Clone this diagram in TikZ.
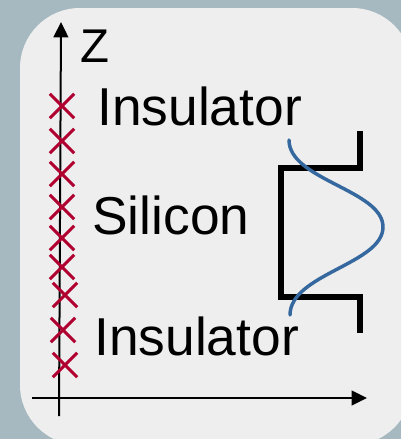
\documentclass[tikz,border=0pt]{standalone}
\usepackage{fontspec}
\setmainfont{Liberation Sans}
\usetikzlibrary{arrows.meta,shapes.misc}
\definecolor{GrisFondo}{RGB}{166,185,193}
\definecolor{GrisPanel}{RGB}{238,238,238}
\definecolor{RojoMarca}{RGB}{176,0,48}
\definecolor{AzulOnda}{RGB}{52,104,158}
\tikzset{
  ejearr/.style={-{Triangle[length=11.5pt, width=11pt]}, line width=1.5pt, black},
  marca/.style={cross out, draw=RojoMarca, line width=2.3pt, minimum size=16pt, inner sep=0pt},
  capalabel/.style={anchor=base west, inner sep=0pt, font=\fontsize{40}{48}\selectfont},
  ejelabel/.style={anchor=base west, inner sep=0pt, font=\fontsize{35.5}{42}\selectfont},
  pozo/.style={line width=3.8pt, black},
  onda/.style={line width=2.6pt, AzulOnda, line cap=round},
}
\begin{document}
\begin{tikzpicture}[x=0.75pt, y=-0.75pt]
  \useasboundingbox (0,0) rectangle (401,439);
  \fill[GrisFondo] (0,0) rectangle (401,439);
  \clip (0,0) rectangle (401,439);
  \fill[GrisPanel, rounded corners=45pt] (20,8) rectangle (412,445);

  % ejes
  \coordinate (zpie) at (59,416);
  \coordinate (zpunta) at (61,22);
  \coordinate (xpie) at (32,398);
  \coordinate (xpunta) at (367,398);
  \draw[ejearr] (zpie) -- (zpunta);
  \draw[ejearr] (xpie) -- (xpunta);

  % posiciones atomicas
  \foreach \y/\x [count=\i] in {106/62,141/62,174/62,207/62,238/62,267/62,295/65,330/63,365/65}
    \node[marca] (m\i) at (\x,\y) {};

  \node[ejelabel] (eje) at (80,62) {Z};
  \node[capalabel] (aislante1) at (97,125) {Insulator};
  \node[capalabel] (silicio) at (92,234) {Silicon};
  \node[capalabel] (aislante2) at (94,355) {Insulator};

  % pozo y funcion de onda
  \draw[pozo] (360,131) -- (360,168) -- (281,168) -- (281,297) -- (360,297) -- (360,333);
  \draw[onda] (289,140) .. controls (289,180) and (383,190) .. (383,227)
    .. controls (383,264) and (290,274) .. (290,315);
\end{tikzpicture}
\end{document}
